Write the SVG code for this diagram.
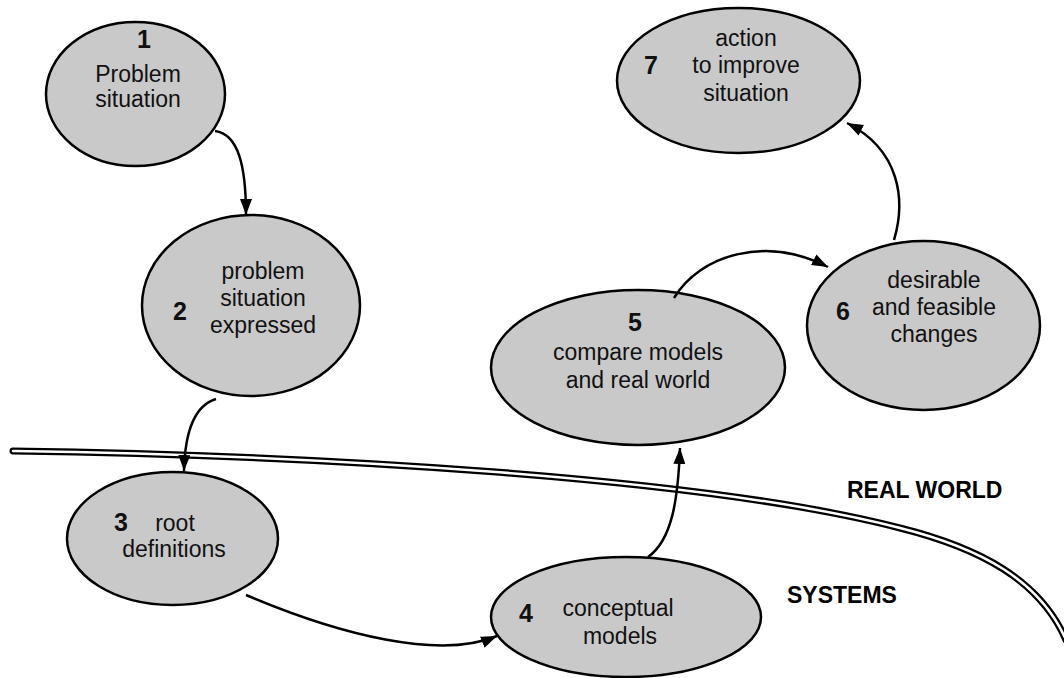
<svg xmlns="http://www.w3.org/2000/svg" width="1064" height="678" viewBox="0 0 1064 678">
  <defs>
    <marker id="arrow" viewBox="0 0 16 12" refX="16" refY="6" markerWidth="16" markerHeight="12" markerUnits="userSpaceOnUse" orient="auto">
      <path d="M0,0 L16,6 L0,12 Z" fill="#000"/>
    </marker>
    <style>
      .node ellipse { fill: #c9c9c9; stroke: #000; stroke-width: 2.5; }
      .lbl { font-family: "Liberation Sans", Arial, sans-serif; font-size: 23px; fill: #111; text-anchor: middle; }
      .num { font-family: "Liberation Sans", Arial, sans-serif; font-size: 25px; font-weight: bold; fill: #111; text-anchor: middle; }
      .zone { font-family: "Liberation Sans", Arial, sans-serif; font-size: 23px; font-weight: bold; fill: #000; }
      .link { fill: none; stroke: #000; stroke-width: 2.5; marker-end: url(#arrow); }
      .edge-outer { fill: none; stroke: #000; stroke-width: 7; stroke-linecap: round; }
      .edge-inner { fill: none; stroke: #fff; stroke-width: 2.5; stroke-linecap: round; }
    </style>
  </defs>
  <rect width="1064" height="678" fill="#fff"/>

  <!-- boundary between real world and systems thinking -->
  <g id="boundary">
    <path class="edge-outer" d="M13,451 C300,455 700,476 900,528 C980,548 1040,580 1066,640"/>
    <path class="edge-inner" d="M13,451 C300,455 700,476 900,528 C980,548 1040,580 1066,640"/>
    <text class="zone" x="847" y="498">REAL WORLD</text>
    <text class="zone" x="787" y="603">SYSTEMS</text>
  </g>

  <g id="node1" class="node">
    <ellipse cx="135.5" cy="94" rx="89.5" ry="72"/>
    <text class="num" x="144" y="48">1</text>
    <text class="lbl" x="138" y="82">Problem</text>
    <text class="lbl" x="138" y="107">situation</text>
  </g>

  <g id="node2" class="node">
    <ellipse cx="251" cy="305.5" rx="109" ry="90.5"/>
    <text class="num" x="180" y="320">2</text>
    <text class="lbl" x="263" y="279">problem</text>
    <text class="lbl" x="263" y="306">situation</text>
    <text class="lbl" x="263" y="333">expressed</text>
  </g>

  <g id="node3" class="node">
    <ellipse cx="172.5" cy="538.5" rx="105.5" ry="66.5"/>
    <text class="num" x="121" y="531">3</text>
    <text class="lbl" x="175" y="531">root</text>
    <text class="lbl" x="174" y="557">definitions</text>
  </g>

  <g id="node4" class="node">
    <ellipse cx="626" cy="617" rx="135" ry="60"/>
    <text class="num" x="526" y="622">4</text>
    <text class="lbl" x="618" y="616">conceptual</text>
    <text class="lbl" x="620" y="644">models</text>
  </g>

  <g id="node5" class="node">
    <ellipse cx="638" cy="367.5" rx="147" ry="77.5"/>
    <text class="num" x="635" y="331">5</text>
    <text class="lbl" x="638" y="360">compare models</text>
    <text class="lbl" x="638" y="388">and real world</text>
  </g>

  <g id="node6" class="node">
    <ellipse cx="923.5" cy="325.5" rx="116.5" ry="84.5"/>
    <text class="num" x="843" y="320">6</text>
    <text class="lbl" x="934" y="288">desirable</text>
    <text class="lbl" x="934" y="315">and feasible</text>
    <text class="lbl" x="934" y="342">changes</text>
  </g>

  <g id="node7" class="node">
    <ellipse cx="738.5" cy="80.5" rx="121.5" ry="72.5"/>
    <text class="num" x="651" y="74">7</text>
    <text class="lbl" x="746" y="46">action</text>
    <text class="lbl" x="746" y="73">to improve</text>
    <text class="lbl" x="746" y="101">situation</text>
  </g>

  <g id="connectors">
    <path class="link" d="M215,131 C238,134 246,165 246,215"/>
    <path class="link" d="M216,399 C196,405 185,430 184,471"/>
    <path class="link" d="M246,595 C340,635 440,660 497,636"/>
    <path class="link" d="M648,557 C672,540 678,500 680,448"/>
    <path class="link" d="M674,298 C700,255 765,235 828,267"/>
    <path class="link" d="M894,240 C906,200 900,150 847,123"/>
  </g>
</svg>
